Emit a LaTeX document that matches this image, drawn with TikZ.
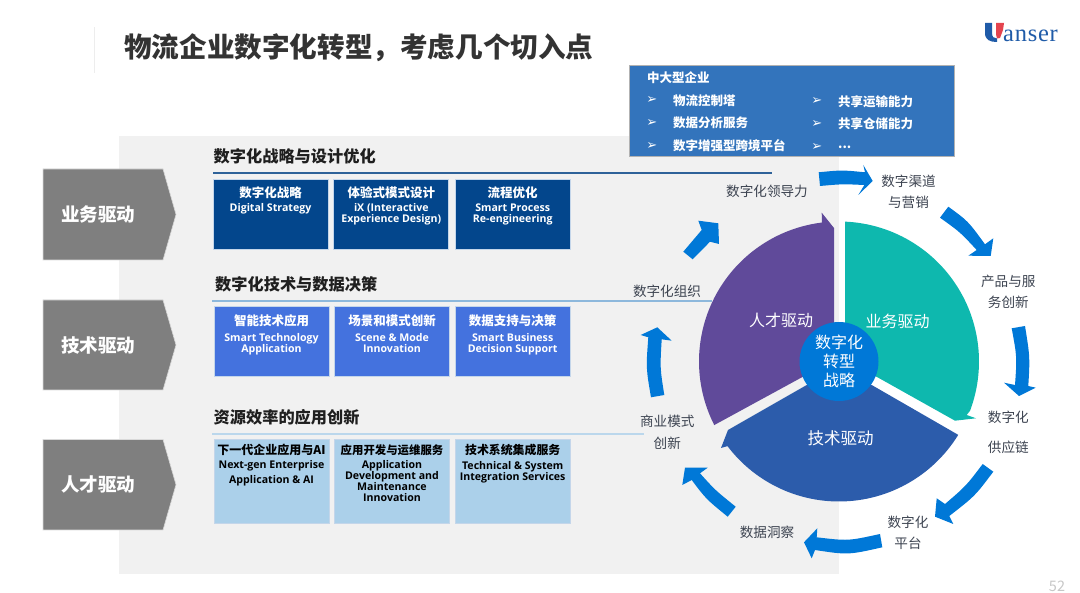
\documentclass[tikz,border=0pt]{standalone}
\usepackage{fontspec}
\setmainfont{Noto Sans CJK SC}
\newfontfamily\latinf{Open Sans}
\newfontfamily\symf{DejaVu Sans}
\newfontfamily\logof[LetterSpace=3]{Liberation Serif}
\newcommand{\fsz}[2]{\fontsize{#1}{#2}\selectfont}
\definecolor{panelgray}{HTML}{F1F1F1}
\definecolor{chevgray}{HTML}{7F7F7F}
\definecolor{navyb}{HTML}{03468C}
\definecolor{midb}{HTML}{4472DE}
\definecolor{paleb}{HTML}{ABD0EA}
\definecolor{boxedge}{HTML}{C4D6EA}
\definecolor{topb}{HTML}{3374BC}
\definecolor{ringb}{HTML}{0078D7}
\definecolor{tealx}{HTML}{0EB8AE}
\definecolor{purpx}{HTML}{604A9A}
\definecolor{techb}{HTML}{2C5CAB}
\definecolor{ringtxt}{HTML}{3C4350}
\definecolor{logob}{HTML}{1F5BA8}
\definecolor{logor}{HTML}{E4444E}
\definecolor{linea}{HTML}{2E6299}
\definecolor{lineb}{HTML}{8DB8DC}
\definecolor{linec}{HTML}{BBD7EC}
\tikzset{
  x=1pt,y=-1pt,
  chev/.style={fill=chevgray,draw=black!15,line width=0.6pt},
  chevtxt/.style={text=white,font=\bfseries\fsz{18.5}{22}},
  stepbox/.style={draw=boxedge,line width=0.7pt,minimum width=115pt,inner sep=0pt,outer sep=0pt},
  ttl/.style={font=\bfseries\fsz{12.5}{15},inner sep=0pt},
  eng/.style={font=\latinf\bfseries\fsz{10.6}{11},align=center,inner sep=0pt},
  hdr/.style={font=\bfseries\fsz{16.2}{19},text=black!88,inner sep=0pt,anchor=west},
  ringlab/.style={font=\fsz{13.6}{21.5},text=ringtxt,align=center,inner sep=0pt},
  seclab/.style={font=\fsz{16}{19},text=white,inner sep=0pt},
  blk/.style={fill=ringb,draw=none},
  toptxt/.style={font=\bfseries\fsz{12.5}{15},text=white,inner sep=0pt,anchor=west},
  bul/.style={font=\symf\fsz{13}{14},text=white,inner sep=0pt},
}
\newcommand{\rowbox}[9]{%
  \node[stepbox,fill=#2,minimum height=#5pt] (#1) at (#3,#4) {};
  \node[ttl,text=#6] (#1t) at (#3,#7) {#8};
  \node[eng,text=#6,anchor=north] (#1e) at (#3,#9) }
\begin{document}
\begin{tikzpicture}
\useasboundingbox (0,0) rectangle (1080,593);
% panel and title
\fill[panelgray] (118.5,136) rectangle (839,574.5);
\draw[black!7,line width=0.8pt] (94.5,27) -- (94.5,73);
\node[font=\bfseries\fsz{27.6}{32},text=black!80,inner sep=0pt,anchor=west] (title) at (124,47.5) {物流企业数字化转型，考虑几个切入点};
% logo
\fill[logob] (985,23) -- (992,23) -- (992,33) .. controls (992,37) and (994,38.5) .. (997,38.5) -- (997,42) .. controls (990,42) and (985,40) .. (985,33) -- cycle;
\fill[logor] (996,23) -- (1004,23) -- (1003,30) -- (1000,38) -- (997,38.5) .. controls (996,36) and (996,34) .. (996,30) -- cycle;
\node[font=\logof\fsz{24.5}{26},text=logob,inner sep=0pt,anchor=base west] (logo) at (1003,41.5) {anser};
% chevrons
\foreach \n/\a/\b/\m/\t in {ca/169/260/214.5/业务驱动,cb/300/390/345/技术驱动,cc/439.5/530/484.7/人才驱动}{
  \fill[chev] (43,\a) -- (163,\a) -- (176,\m) -- (163,\b) -- (43,\b) -- cycle;
  \node[chevtxt] (\n) at (98,\m) {\t};
}
% section lines
\coordinate (la0) at (213,173); \coordinate (la1) at (772,173);
\coordinate (lb0) at (212,301); \coordinate (lb1) at (712,301);
\coordinate (lc0) at (212,434); \coordinate (lc1) at (644,434);
\draw[color=linea,line width=1.5pt] (la0) -- (la1);
\draw[color=lineb,line width=1.5pt] (lb0) -- (lb1);
\draw[color=linec,line width=1.3pt] (lc0) -- (lc1);
\node[hdr] (ha) at (213.5,156) {数字化战略与设计优化};
\node[hdr] (hb) at (215,284) {数字化技术与数据决策};
\node[hdr] (hc) at (213.5,417) {资源效率的应用创新};
% row 1
\rowbox{a1}{navyb}{270.5}{214.3}{70}{white}{192.3}{数字化战略}{203.7}{Digital Strategy};
\rowbox{a2}{navyb}{391.3}{214.3}{70}{white}{192.3}{体验式模式设计}{203.7}{iX (Interactive\\Experience Design)};
\rowbox{a3}{navyb}{512.7}{214.3}{70}{white}{192.3}{流程优化}{203.7}{Smart Process\\Re-engineering};
% row 2
\rowbox{b1}{midb}{271.5}{341.7}{70}{white}{321}{智能技术应用}{332.8}{Smart Technology\\Application};
\rowbox{b2}{midb}{392}{341.7}{70}{white}{321}{场景和模式创新}{332.8}{Scene \& Mode\\Innovation};
\rowbox{b3}{midb}{512.7}{341.7}{70}{white}{321}{数据支持与决策}{332.8}{Smart Business\\Decision Support};
% row 3
\rowbox{c1}{paleb}{271.5}{481}{84}{black}{450}{\fsz{12}{15}下一代企业应用与AI}{460.5}{Next-gen Enterprise\\[3.6pt]Application \& AI};
\rowbox{c2}{paleb}{392}{481}{84}{black}{450}{\fsz{11.4}{15}应用开发与运维服务}{459.8}{Application\\Development and\\Maintenance\\Innovation};
\rowbox{c3}{paleb}{512.7}{481}{84}{black}{450}{\fsz{11.9}{15}技术系统集成服务}{461}{Technical \& System\\Integration Services};
% top blue panel
\node[fill=topb,draw=black!30,line width=0.8pt,minimum width=325pt,minimum height=91.5pt,inner sep=0pt] (toppanel) at (791.5,111) {};
\node[toptxt] (t0) at (647,77.7) {中大型企业};
\node[bul] (u1) at (651.7,100.5) {➢};
\node[toptxt] (t1) at (673,100.5) {物流控制塔};
\node[bul] (u2) at (651.7,123) {➢};
\node[toptxt] (t2) at (673,123) {数据分析服务};
\node[bul] (u3) at (651.7,146) {➢};
\node[toptxt] (t3) at (673,146) {数字增强型跨境平台};
\node[bul] (u4) at (816.7,101.5) {➢};
\node[toptxt] (t4) at (838,101.5) {共享运输能力};
\node[bul] (u5) at (816.7,124) {➢};
\node[toptxt] (t5) at (838,124) {共享仓储能力};
\node[bul] (u6) at (816.7,147) {➢};
\node[toptxt] (t6) at (838,147) {...};
% sectors
\coordinate (c) at (839,361.5);
\fill[tealx] (c) ++(87.5:140pt) arc[start angle=87.5,end angle=-20.6,radius=140pt]
  -- (966.7,415) -- (976,418.3) -- (955,420.7) -- (877,377) -- (845,361.5) -- cycle;
\fill[purpx] (c) ++(207:140pt) arc[start angle=207,end angle=97,radius=140pt]
  -- (821.7,212.7) -- (834,228) -- (834,361.5) -- (803,376.7) -- cycle;
\fill[techb] (c) ++(328.4:140pt) arc[start angle=328.4,end angle=217.2,radius=140pt]
  -- (721,448) -- (728,430) -- (806.7,385) -- (871.7,385) -- cycle;
\node[circle,fill=ringb,minimum size=79pt,inner sep=0pt] (hub) at (c) {};
\node[seclab] (s1) at (781,320.7) {人才驱动};
\node[seclab] (s2) at (897.7,321) {业务驱动};
\node[seclab,font=\fsz{16.5}{19}] (s3) at (840.7,438) {技术驱动};
\node[seclab,align=center,font=\fsz{16}{19}] (hubt) at (c) {数字化\\转型\\战略};
% block arrows
\fill[blk] (818.7,172.3) .. controls (842,170) .. (865,172.3) -- (863.3,165) -- (872.7,181) -- (858.3,195) -- (864.3,185) .. controls (842,184) .. (820,186) -- cycle;
\fill[blk] (948.3,206.7) .. controls (968,221) .. (985,244.3) -- (993.3,238.3) -- (990.7,256) -- (968.3,255.7) -- (976.7,250) .. controls (960,232) .. (940,217.7) -- cycle;
\fill[blk] (1025,326) .. controls (1030,357) .. (1028.3,386) -- (1035.7,387.7) -- (1019,396) -- (1004,382.7) -- (1015,385) .. controls (1017,357) .. (1011.7,328.3) -- cycle;
\fill[blk] (993.3,471.7) .. controls (975,496) .. (949.3,516) -- (953.3,524) -- (935,516.7) -- (936.7,498.3) -- (945,504) .. controls (966,486) .. (982.7,464) -- cycle;
\fill[blk] (882.3,547.3) .. controls (848,555) .. (815,550) -- (811.7,558.3) -- (804,542.3) -- (817.3,528.3) -- (816.7,537.3) .. controls (848,541) .. (880,534) -- cycle;
\fill[blk] (727.7,516.7) .. controls (706,499) .. (691.7,480) -- (682.3,485) -- (685,467.7) -- (707.7,467.7) -- (700,473.3) .. controls (715,490) .. (735.7,506.7) -- cycle;
\fill[blk] (651,397.3) .. controls (646,368) .. (648.3,337.3) -- (640.7,335) -- (657.3,327.3) -- (671.7,340.7) -- (661.7,339.3) .. controls (660,368) .. (664.3,395) -- cycle;
\fill[blk] (683.3,251.7) .. controls (692,240) .. (701.7,230) -- (698.3,220.7) -- (718.3,223.3) -- (719,244) -- (710,241.7) .. controls (701,250) .. (692.7,259.3) -- cycle;
% ring labels
\node[ringlab] (r1) at (767,191.5) {数字化领导力};
\node[ringlab] (r2) at (908.5,191.7) {数字渠道\\与营销};
\node[ringlab] (r3) at (1008.3,291.7) {产品与服\\务创新};
\node[ringlab,font=\fsz{13.6}{29.6}] (r4) at (1008.3,432.5) {数字化\\供应链};
\node[ringlab] (r5) at (908,533) {数字化\\平台};
\node[ringlab] (r6) at (767,532.7) {数据洞察};
\node[ringlab] (r7) at (667.3,432.5) {商业模式\\创新};
\node[ringlab] (r8) at (667,291) {数字化组织};
% page number
\node[font=\fsz{14.5}{17},text=black!22,inner sep=0pt] (pg) at (1057,586.5) {52};
\end{tikzpicture}
\end{document}
